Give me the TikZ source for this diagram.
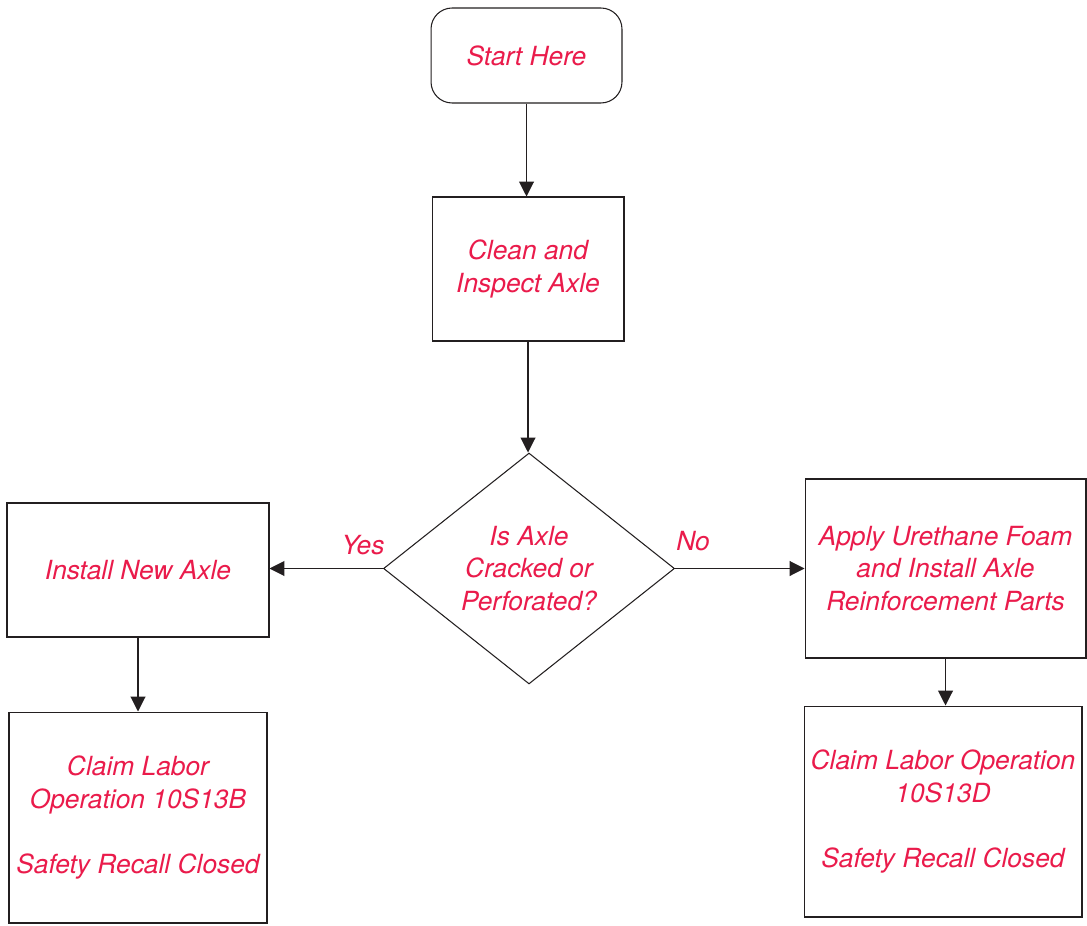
\documentclass[tikz,border=0pt]{standalone}
\usepackage{fontspec}
\setmainfont{TeX Gyre Heros}
\usetikzlibrary{shapes.geometric,arrows.meta}
\definecolor{labelred}{RGB}{234,27,75}
\definecolor{linegray}{RGB}{35,31,32}
\tikzstyle{flowboxes}=[%
	every path/.style = {%
		linegray,
		line width=0.6pt
	},%
	stepbox/.style={%
		draw=linegray,
		rectangle,
		align=center,
		text=labelred,
		font=\fontsize{15}{18.7}\selectfont\itshape,
		inner sep=0pt
	},
	flowarrow/.style={%
		-{Triangle[length=8.5pt,width=8.5pt]}
	},
	answer/.style={%
		text=labelred,
		font=\fontsize{15}{18.7}\selectfont\itshape
	}
]
\begin{document}
\begin{tikzpicture}[
	x=0.02cm,
	y=-0.02cm,
	flowboxes
]
	\useasboundingbox [draw=none, fill=white] (0,0) rectangle (1087,925);

	\node[stepbox, rounded corners=12pt, minimum width=3.82cm, minimum height=1.9cm]
		(start) at (526.5,55.5) {Start Here};
	\node[stepbox, minimum width=3.84cm, minimum height=2.88cm]
		(clean) at (528,269) {Clean and\\Inspect Axle};
	\node[stepbox, diamond, aspect=1.26, minimum width=5.82cm, minimum height=4.62cm]
		(cracked) at (529,568.5) {Is Axle\\Cracked or\\Perforated?};
	\node[stepbox, minimum width=5.24cm, minimum height=2.68cm]
		(newaxle) at (138,570) {Install New Axle};
	\node[stepbox, minimum width=5.16cm, minimum height=4.22cm]
		(claimB) at (138,817.5) {Claim Labor\\Operation 10S13B\\[18.7pt]Safety Recall Closed};
	\node[stepbox, minimum width=5.62cm, minimum height=3.58cm]
		(foam) at (945.5,568.5) {Apply Urethane Foam\\and Install Axle\\Reinforcement Parts};
	\node[stepbox, minimum width=5.56cm, minimum height=4.22cm]
		(claimD) at (943,811.5) {Claim Labor Operation\\10S13D\\[18.7pt]Safety Recall Closed};

	\draw[flowarrow] (start.south) -- (start.south |- clean.north);
	\draw[flowarrow] (clean.south) -- (clean.south |- cracked.north);
	\draw[flowarrow] (cracked.west) -- (cracked.west -| newaxle.east);
	\draw[flowarrow] (cracked.east) -- (cracked.east -| foam.west);
	\draw[flowarrow] (newaxle.south) -- (claimB.north);
	\draw[flowarrow] (foam.south) -- (foam.south |- claimD.north);

	\node[answer] (yes) at (363,545) {Yes};
	\node[answer] (no) at (693,541) {No};
\end{tikzpicture}
\end{document}
